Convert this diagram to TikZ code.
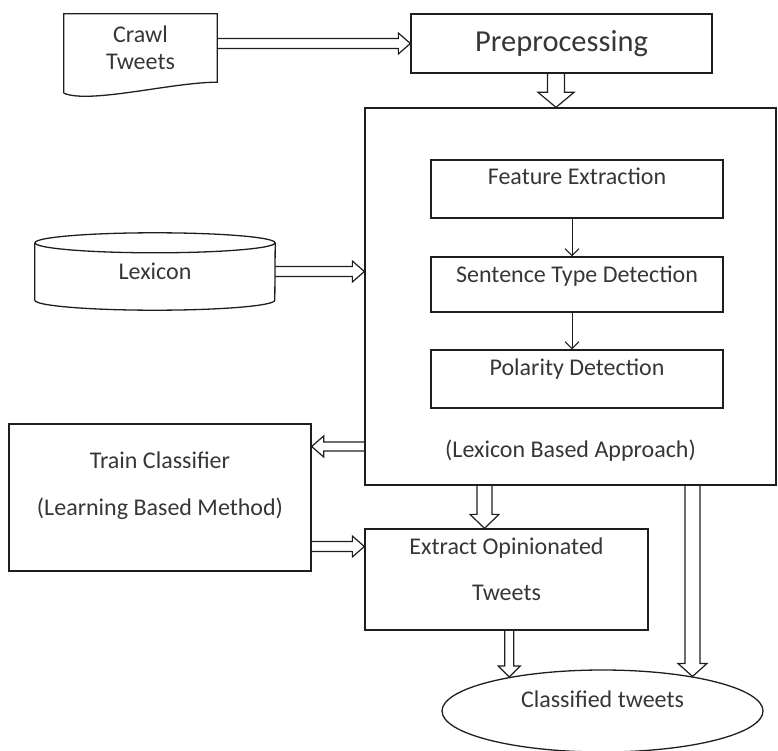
\documentclass[tikz,border=0pt]{standalone}
\usepackage{fontspec}
\setmainfont{Carlito}
\usetikzlibrary{calc,shapes.geometric,arrows.meta}
\definecolor{ink}{HTML}{363636}
\definecolor{edge}{HTML}{1E1E1E}

\tikzset{
    arrshaft/.store in=\arrshaft, arrshaft=5pt,
    arrhead/.store in=\arrhead, arrhead=10.5pt,
    arrlen/.store in=\arrlen, arrlen=12pt,
    % hollow block arrow (outline only)
    hollow/.style={draw=edge, line width=1.2pt, line join=miter, to path={
        ($(\tikztostart)!\arrshaft!90:(\tikztotarget)$)
        -- ($(\tikztotarget)!\arrlen!(\tikztostart)!\arrshaft!90:(\tikztotarget)$)
        -- ($(\tikztotarget)!\arrlen!(\tikztostart)!\arrhead!90:(\tikztotarget)$)
        -- (\tikztotarget)
        -- ($(\tikztotarget)!\arrlen!(\tikztostart)!\arrhead!-90:(\tikztotarget)$)
        -- ($(\tikztotarget)!\arrlen!(\tikztostart)!\arrshaft!-90:(\tikztotarget)$)
        -- ($(\tikztostart)!\arrshaft!-90:(\tikztotarget)$)}},
    blk/.style={draw=edge, line width=1.3pt, rectangle, inner sep=0pt, text=ink,
        font=\fontsize{24}{28}\selectfont},
    stepbox/.style={blk, minimum width=292pt, text height=25pt, text depth=33pt},
    flow/.style={draw=edge, line width=1pt, -{Straight Barb[length=7pt,width=14pt]}}
}

\begin{document}
\begin{tikzpicture}[x=1pt, y=1pt]
    \useasboundingbox (0,0) rectangle (778,-751);

    % Crawl Tweets (document shape)
    \node[text=ink, font=\fontsize{24}{27}\selectfont, align=center, inner sep=0pt,
        minimum width=153pt, minimum height=68pt] (crawl) at (140.5,-48) {Crawl\\Tweets};
    \draw[edge, line width=1.3pt] ([yshift=-11pt]crawl.south west) -- (crawl.north west)
        -- (crawl.north east) -- (crawl.south east)
        .. controls +(-45,0) and +(26,-11) .. ([yshift=-11pt]crawl.south west);

    \node[blk, minimum width=301pt, minimum height=59pt,
        font=\fontsize{30.5}{34}\selectfont] (pre) at (561.5,-43.5) {Preprocessing};

    % Lexicon based part
    \node[blk, minimum width=411pt, text height=349pt, text depth=28pt] (big)
        at (570.5,-296.5) {(Lexicon Based Approach)};
    \node[stepbox] (fe) at (577,-189) {Feature Extraction};
    \node[stepbox, text depth=30pt] (st) at (577,-284.5) {Sentence Type Detection};
    \node[stepbox] (pd) at (577,-379) {Polarity Detection};
    \draw[flow] (fe.south -| 572,0) -- (st.north -| 572,0);
    \draw[flow] (st.south -| 572,0) -- (pd.north -| 572,0);

    % Lexicon (cylinder)
    \node[text=ink, font=\fontsize{24}{28}\selectfont, inner sep=0pt,
        minimum width=240pt, minimum height=57pt] (lex) at (155,-271.5) {Lexicon};
    \draw[edge, line width=1.3pt] (lex.north) ellipse [x radius=120pt, y radius=10pt];
    \draw[edge, line width=1.3pt] (lex.north west) -- (lex.south west)
        arc[start angle=180, end angle=360, x radius=120pt, y radius=10pt] -- (lex.north east);

    % Learning based part
    \node[blk, minimum width=302pt, align=center, text height=91pt, text depth=56pt,
        font=\fontsize{24}{47}\selectfont] (train) at (160,-497.5)
        {Train Classifier\\(Learning Based Method)};
    \node[blk, minimum width=283pt, align=center, text height=71pt, text depth=30pt,
        font=\fontsize{24}{46}\selectfont] (ext) at (506.5,-579.5)
        {Extract Opinionated\\Tweets};
    \node[ellipse, draw=edge, line width=1.3pt, inner sep=0pt, text=ink,
        font=\fontsize{24}{28}\selectfont, minimum width=321pt, minimum height=82pt,
        text height=12pt, text depth=20pt] (cls) at (602.5,-711) {Classified tweets};

    % block arrows
    \draw[hollow] (crawl.east |- pre.west) to (pre.west);
    \draw[hollow, arrshaft=8.5pt, arrhead=18pt, arrlen=15pt] (pre.south -| 556,0) to (big.north -| 556,0);
    \draw[hollow] (lex.east) to (lex.east -| big.west);
    \draw[hollow, arrshaft=4.5pt] (big.west |- 0,-446.5) to (train.east |- 0,-446.5);
    \draw[hollow] (train.east |- 0,-546.5) to (ext.west |- 0,-546.5);
    \draw[hollow, arrshaft=7.5pt, arrhead=14.5pt, arrlen=14pt] (big.south -| 484.5,0) to (ext.north -| 484.5,0);
    \draw[hollow, arrshaft=4.5pt, arrhead=11pt, arrlen=11pt] (ext.south -| cls.160) to (cls.160);
    \draw[hollow, arrshaft=7.5pt, arrhead=14.5pt, arrlen=13pt] (big.south -| cls.21) to (cls.21);
\end{tikzpicture}
\end{document}
